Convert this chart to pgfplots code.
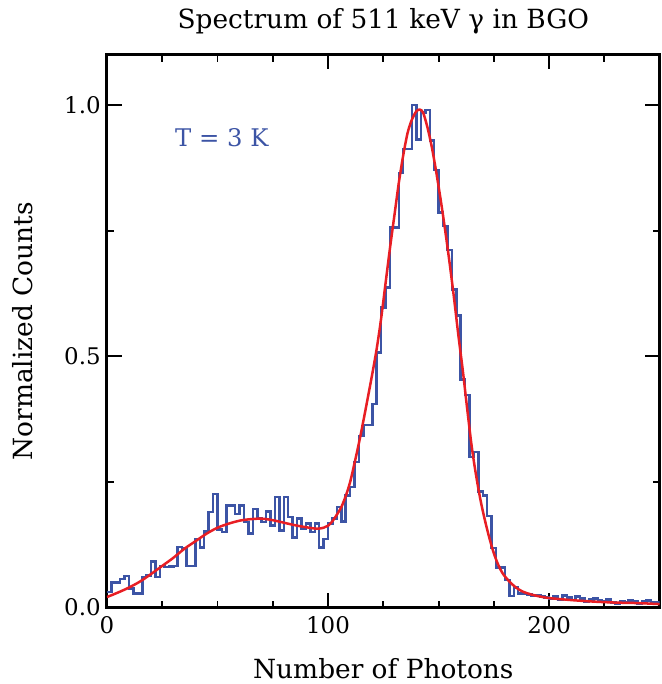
\documentclass[border=0pt]{standalone}
\usepackage{fontspec}
\setmainfont{DejaVu Serif}
\usepackage{pgfplots}
\pgfplotsset{compat=1.18}
\definecolor{hblue}{RGB}{60,84,165}
\definecolor{fred}{RGB}{232,30,36}
\begin{document}
\begin{tikzpicture}
\begin{axis}[
  scale only axis, width=398pt, height=398pt,
  xmin=0, xmax=250, ymin=0, ymax=1.1,
  xtick={0,100,200}, minor xtick={25,50,75,125,150,175,225},
  ytick={0,0.5,1.0}, minor ytick={0.25,0.75},
  xtick pos=both, ytick pos=both,
  xticklabel pos=bottom, yticklabel pos=left,
  tick align=inside,
  major tick length=10.5pt, minor tick length=5pt,
  every tick/.style={black, line width=1.4pt},
  axis line style={line width=2.2pt},
  /pgf/number format/assume math mode=true,
  tick label style={font=\fontsize{16.5}{18}\selectfont},
  xticklabel style={yshift=-3pt},
  yticklabel style={xshift=-1pt},
  y tick label style={/pgf/number format/.cd, fixed, fixed zerofill, precision=1, /tikz/.cd},
]
\addplot[const plot, hblue, line width=1.8pt] coordinates {
(0,0.031) (2,0.050) (4,0.050) (6,0.057) (8,0.063) (10,0.038) (12,0.028) (14,0.028)
(16,0.061) (18,0.064) (20,0.092) (22,0.061) (24,0.083) (26,0.081) (28,0.082) (30,0.083)
(32,0.121) (34,0.118) (36,0.083) (38,0.083) (40,0.137) (42,0.120) (44,0.151) (46,0.190)
(48,0.226) (50,0.155) (52,0.150) (54,0.203) (56,0.203) (58,0.186) (60,0.203) (62,0.170)
(64,0.147) (66,0.196) (68,0.177) (70,0.170) (72,0.191) (74,0.163) (76,0.220) (78,0.153)
(80,0.220) (82,0.180) (84,0.140) (86,0.177) (88,0.157) (90,0.167) (92,0.150) (94,0.167)
(96,0.120) (98,0.137) (100,0.167) (102,0.177) (104,0.200) (106,0.171) (108,0.223) (110,0.240)
(112,0.290) (114,0.342) (116,0.363) (118,0.363) (120,0.405) (122,0.508) (124,0.597) (126,0.637)
(128,0.756) (130,0.756) (132,0.865) (134,0.913) (136,0.913) (138,1.000) (140,0.932) (142,0.985)
(144,0.990) (146,0.930) (148,0.871) (150,0.786) (152,0.759) (154,0.712) (156,0.633) (158,0.581)
(160,0.454) (162,0.423) (164,0.300) (166,0.310) (168,0.231) (170,0.223) (172,0.182) (174,0.119)
(176,0.080) (178,0.080) (180,0.055) (182,0.023) (184,0.040) (186,0.028) (188,0.028) (190,0.026)
(192,0.024) (194,0.024) (196,0.022) (198,0.020) (200,0.018) (202,0.022) (204,0.016) (206,0.024)
(208,0.020) (210,0.015) (212,0.022) (214,0.018) (216,0.012) (218,0.016) (220,0.018) (222,0.014)
(224,0.012) (226,0.016) (228,0.010) (230,0.008) (232,0.012) (234,0.010) (236,0.014) (238,0.012)
(240,0.008) (242,0.012) (244,0.014) (246,0.010) (248,0.010) (250,0.010)
};
\addplot[smooth, fred, line width=1.8pt] coordinates {
(0,0.021) (5,0.030) (10,0.040) (15,0.052) (20,0.067) (25,0.083) (30,0.099) (35,0.117)
(40,0.132) (45,0.147) (50,0.159) (55,0.167) (60,0.173) (65,0.176) (70,0.177) (75,0.174)
(80,0.169) (85,0.164) (90,0.160) (95,0.157) (98,0.159) (100,0.163) (102,0.172) (104,0.185)
(106,0.200) (108,0.222) (110,0.250) (112,0.288) (114,0.328) (116,0.372) (118,0.418) (120,0.465)
(122,0.515) (124,0.575) (126,0.645) (128,0.715) (130,0.780) (132,0.845) (134,0.900) (136,0.945)
(138,0.972) (140,0.988) (141.5,0.991) (143,0.985) (145,0.955) (147,0.915) (149,0.865) (151,0.810)
(153,0.750) (155,0.685) (157,0.615) (159,0.540) (161,0.470) (163,0.393) (165,0.320) (167,0.262)
(169,0.213) (171,0.173) (173,0.138) (175,0.108) (177,0.085) (179,0.068) (182,0.052) (185,0.040)
(188,0.032) (192,0.026) (196,0.022) (200,0.019) (210,0.015) (220,0.012) (230,0.010) (240,0.009)
(250,0.007)
};
\node[hblue, font=\fontsize{17.5}{20}\selectfont] at (axis cs:52,0.935) {T = 3 K};
\end{axis}
\node[inner sep=0pt, font=\fontsize{19}{22}\selectfont] at ([yshift=24.5pt]current axis.north) {Spectrum of 511 keV γ in BGO};
\node[inner sep=0pt, font=\fontsize{19}{22}\selectfont] at ([yshift=-44pt]current axis.south) {Number of Photons};
\node[inner sep=0pt, font=\fontsize{19}{22}\selectfont, rotate=90] at ([xshift=-61pt]current axis.west) {Normalized Counts};
\path (current axis.south west) ++(-77pt,-55pt) coordinate (bbA);
\path (current axis.north east) ++(0.7pt,39.5pt) coordinate (bbB);
\path (bbA) rectangle (bbB);
\end{tikzpicture}
\end{document}
